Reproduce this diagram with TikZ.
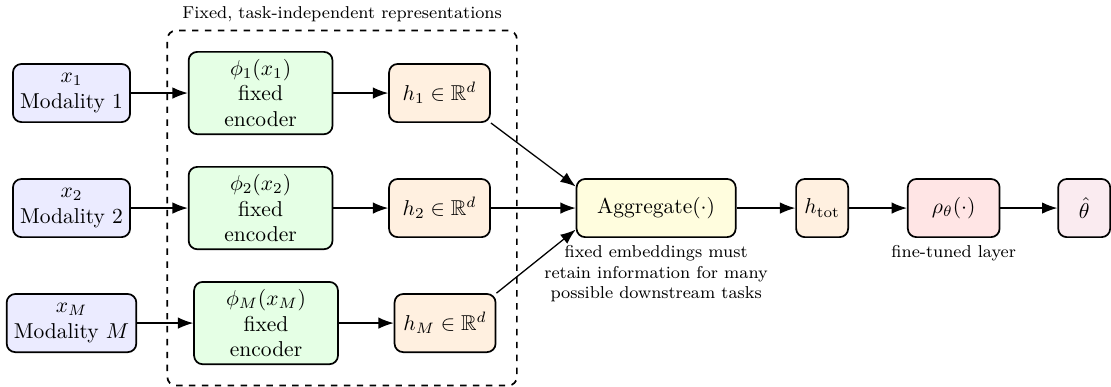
\documentclass[tikz,border=0pt]{standalone}
\usepackage{amsmath,amssymb}
\usepackage{tikz}
\usetikzlibrary{arrows.meta, positioning, fit}

\begin{document}
\begin{tikzpicture}[
    inputbox/.style={draw, thick, rounded corners, fill=blue!8, align=center, minimum height=0.95cm},
    encbox/.style={draw, thick, rounded corners, fill=green!10, align=center, minimum width=2.35cm},
    embbox/.style={draw, thick, rounded corners, fill=orange!12, align=center, minimum width=1.65cm, minimum height=0.95cm},
    aggbox/.style={draw, thick, rounded corners, fill=yellow!13, minimum width=2.6cm, minimum height=0.95cm},
    smallbox/.style={draw, thick, rounded corners, minimum width=0.85cm, minimum height=0.95cm},
    arrow/.style={-{Latex[length=2.5mm]}, semithick},
    note/.style={font=\footnotesize, align=center}
]
\useasboundingbox (0,0) rectangle (18.15,-6.32);

% Inputs
\node[inputbox] (mod1) at (1.168,-1.520) {$x_1$\\Modality 1};
\node[inputbox] (mod2) at (1.168,-3.399) {$x_2$\\Modality 2};
\node[inputbox] (modM) at (1.168,-5.278) {$x_M$\\Modality $M$};

% Frozen encoders
\node[encbox] (enc1) at (4.257,-1.520) {$\phi_1(x_1)$\\fixed\\encoder};
\node[encbox] (enc2) at (4.257,-3.399) {$\phi_2(x_2)$\\fixed\\encoder};
\node[encbox] (encM) at (4.346,-5.278) {$\phi_M(x_M)$\\fixed\\encoder};

% Embeddings
\node[embbox] (emb1) at (7.181,-1.520) {$h_1 \in \mathbb{R}^d$};
\node[embbox] (emb2) at (7.181,-3.399) {$h_2 \in \mathbb{R}^d$};
\node[embbox] (embM) at (7.271,-5.278) {$h_M \in \mathbb{R}^d$};

% Dashed group
\node[draw, dashed, thick, rounded corners=4pt, inner sep=9.5pt, fit=(enc1)(encM)(emb1)(embM)] (frozen) {};
\node[note, above] at (frozen.north) {Fixed, task-independent representations};

% Head
\node[aggbox] (agg) at (10.719,-3.399) {Aggregate$(\cdot)$};
\node[smallbox, fill=orange!12] (htot) at (13.431,-3.399) {$h_{\text{tot}}$};
\node[smallbox, fill=red!10, minimum width=1.5cm] (rho) at (15.580,-3.399) {$\rho_\theta(\cdot)$};
\node[smallbox, fill=purple!8] (out) at (17.712,-3.399) {$\hat{\theta}$};

\node[note, below=0pt of agg] {fixed embeddings must\\retain information for many\\possible downstream tasks};
\node[note, below=0pt of rho] {fine-tuned layer};

% Connections
\draw[arrow] (mod1) -- (enc1);
\draw[arrow] (mod2) -- (enc2);
\draw[arrow] (modM) -- (encM);
\draw[arrow] (enc1) -- (emb1);
\draw[arrow] (enc2) -- (emb2);
\draw[arrow] (encM) -- (embM);
\draw[arrow] (emb1.south east) -- (agg.165);
\draw[arrow] (emb2) -- (agg);
\draw[arrow] (embM.north east) -- (agg.195);
\draw[arrow] (agg) -- (htot);
\draw[arrow] (htot) -- (rho);
\draw[arrow] (rho) -- (out);

\end{tikzpicture}
\end{document}
